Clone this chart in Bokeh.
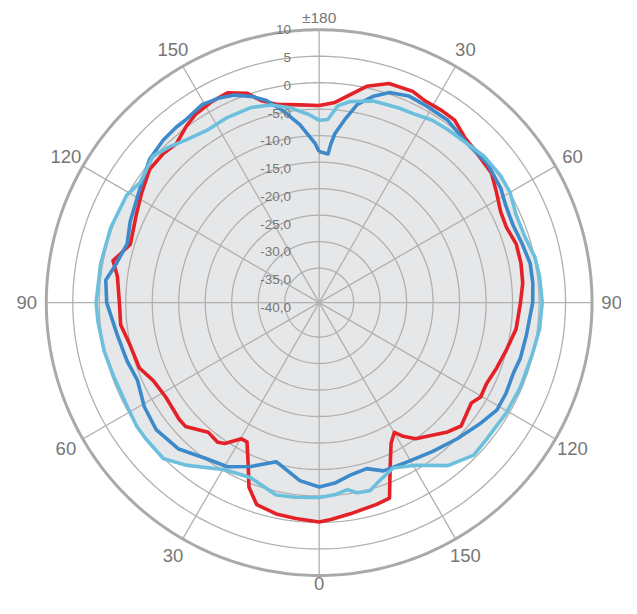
import numpy as np
from bokeh.plotting import figure
from bokeh.models import ColumnDataSource
from bokeh.core.properties import value
from bokeh.embed import file_html
from bokeh.resources import INLINE

# ---------------- data ----------------
R_MIN = -41.5   # radial axis minimum (dB) at the centre
R_MAX = 10.0    # radial axis maximum (dB) at the outer circle

ring_levels = [-35, -30, -25, -20, -15, -10, -5, 0, 5, 10]
radial_label_values = [-40, -35, -30, -25, -20, -15, -10, -5, 0, 5, 10]
radial_labels = ["-40,0", "-35,0", "-30,0", "-25,0", "-20,0", "-15,0",
                 "-10,0", "-5,0", "0", "5", "10"]

angle_ticks = [0, 30, 60, 90, 120, 150, 180, 210, 240, 270, 300, 330]
angle_labels = ["±180", "30", "60", "90", "120", "150",
                "0", "30", "60", "90", "120", "150"]

# angle: degrees clockwise from top ; values in dB
red_angle = [0, 4.5, 12.4, 17.7, 23.9, 27.8, 32.6, 36.6, 41.2, 46.6, 53, 58.2,
             63.4, 68.1, 73.5, 79, 84.5, 90, 97.6, 104.6, 110.2, 115.8, 120.3,
             123.4, 131, 135.2, 144.7, 147.9, 149.9, 152.9, 156.8, 160.2, 164.1,
             171.6, 176.9, 180, 186.2, 191.5, 197.2, 200.8, 203.9, 207.4, 209.7,
             213.8, 216, 220.6, 227.2, 230.2, 238.3, 244.8, 250, 257.5, 263.6,
             270, 277.4, 281.5, 283.8, 287.2, 295.7, 301.8, 308.2, 313.7, 318,
             322.7, 326.7, 332, 336.4, 341, 343.9, 347.8, 354.4]
red_db = [-4.3, -3.6, 0.3, 1.9, 2.1, 1.5, 1.5, 1.4, 0.1, -0.5, -0.8, -2.1,
          -3.2, -3.4, -2.7, -2.7, -2.9, -3.5, -4.0, -5.1, -5.8, -6.4, -6.2,
          -7.1, -6.0, -7.1, -10.0, -11.7, -13.2, -11.7, -7.5, -2.3, -1.9,
          -1.2, -0.5, -0.1, -0.5, -0.8, -1.6, -4.2, -8.4, -11.9, -11.9,
          -9.5, -8.9, -9.3, -7.1, -7.1, -7.5, -6.9, -5.4, -4.9, -3.8,
          -3.8, -3.1, -1.8, -2.9, -4.2, -3.2, -2.1, -0.8, -0.8, -1.2,
          0.1, 1.0, 1.5, 1.7, 0.3, -1.8, -3.2, -4.0]

blue_angle = [0, 3.4, 4.2, 5.3, 7.9, 10.9, 14.8, 18.5, 23.5, 28.2, 35.2, 43,
              50.3, 57.8, 62.5, 68.1, 74, 79.5, 84.8, 90, 98.8, 105.5, 110.1,
              115.8, 121.1, 126.5, 134.6, 142.8, 150.6, 159.1, 164, 169.8, 175,
              180, 186.2, 195.1, 202.6, 209.2, 216.2, 223.8, 232.1, 239.3,
              246.8, 253.1, 261, 270, 276, 280, 287, 293.2, 302.5, 310.2,
              316.2, 320.8, 323.8, 329.4, 333.7, 337.8, 341.7, 345.4, 349.4,
              353.8, 358.6]
blue_db = [-13.0, -13.4, -11.5, -9.5, -6.7, -3.4, -1.2, 0.3, 1.0, 0.8, 0.6, -0.5,
           -0.3, -1.0, -1.8, -2.1, -1.6, -1.0, -1.0, -1.2, -1.9, -2.1, -2.5,
           -2.3, -2.3, -3.4, -4.9, -6.2, -7.1, -7.5, -8.9, -8.4, -7.3,
           -6.7, -7.7, -10.4, -8.0, -6.0, -5.1, -3.2, -2.5, -3.1,
           -4.2, -3.6, -2.9, -1.4, -1.0, -2.3, -3.6, -2.7, -1.4, 0.4,
           1.0, 1.2, 1.2, 1.9, 1.5, 0.8, -0.5, -2.1, -4.7,
           -7.7, -11.5]

light_angle = [0, 2.7, 5.4, 8.8, 15.1, 22.3, 27.2, 31.8, 36.7, 43, 48.4, 55, 60,
               66, 72.5, 78, 83.2, 90, 96.8, 103.6, 112.9, 120.5, 129.1, 134.6,
               141.7, 149.3, 155.9, 161.3, 164.9, 168.7, 171.4, 175.4, 180,
               186.8, 192.6, 201.3, 209.4, 219.4, 225, 231.7, 235.8, 241.5, 250,
               257.2, 265, 270, 280.1, 289.8, 299.2, 303.8, 311.4, 316.1, 320.6,
               327.2, 333.7, 340.7, 346.2, 351.5, 357]
light_db = [-7.1, -6.9, -4.2, -3.1, -2.1, -1.8, -1.6, -1.0, -0.8, -0.5, 0.1, 0.3, 0.1,
            -0.8, -0.7, 0.1, 0.4, 0.6, 0.4, -0.1, -0.3, -0.5, -0.7, -0.5,
            -2.3, -5.8, -7.3, -6.0, -4.7, -4.9, -5.8, -5.1, -4.7,
            -4.5, -4.3, -6.0, -5.3, -1.8, 0.1, 0.1, 0.1, -0.3, -0.3,
            0.1, 0.4, 0.6, 0.4, 0.3, 0.1, -0.8, 0.3, -0.7, -1.8,
            -2.7, -2.5, -2.5, -3.1, -4.3, -6.0]

series = [
    ("red", red_angle, red_db, "#e52128"),
    ("blue", blue_angle, blue_db, "#3d8acb"),
    ("light", light_angle, light_db, "#6cc0dd"),
]

# ---------------- helpers ----------------
def to_xy(angles_deg, dbs):
    a = np.radians(np.asarray(angles_deg, dtype=float))
    r = np.asarray(dbs, dtype=float) - R_MIN
    return r * np.sin(a), r * np.cos(a)

S = 0.9745           # overall scale so that the whole chart fits the page
PX_REF = 5.437       # reference pixels per data unit
PX = PX_REF * S
W, H = 621, 598
cx, cy = 327 * S, 310 * S
p = figure(width=W, height=H, output_backend="svg", toolbar_location=None,
           x_range=(-cx / PX, (W - cx) / PX), y_range=(-(H - cy) / PX, cy / PX),
           min_border=0, outline_line_color=None)
p.axis.visible = False
p.grid.visible = False
p.background_fill_color = "white"
p.border_fill_color = "white"

FILL = "#e6e7e9"
GRID = "#b0b0b0"
TEXT = "#767676"

# fills (union of all series)
for name, ang, db, col in series:
    x, y = to_xy(ang, db)
    p.patch(list(x), list(y), fill_color=FILL, line_color=None)

# rings
t = np.radians(np.linspace(0, 360, 361))
ring_xs, ring_ys = [], []
for lv in ring_levels[:-1]:
    r = lv - R_MIN
    ring_xs.append(list(r * np.sin(t)))
    ring_ys.append(list(r * np.cos(t)))
p.multi_line(ring_xs, ring_ys, line_color=GRID, line_width=1.3)

# spokes
R_OUT = R_MAX - R_MIN
sx, sy = [], []
for a in angle_ticks:
    ar = np.radians(a)
    sx.append([0, R_OUT * np.sin(ar)])
    sy.append([0, R_OUT * np.cos(ar)])
p.multi_line(sx, sy, line_color=GRID, line_width=1.3)

# outer circle
p.line(list(R_OUT * np.sin(t)), list(R_OUT * np.cos(t)), line_color="#a9a9a9", line_width=3)

# series lines
for name, ang, db, col in series:
    x, y = to_xy(list(ang) + [ang[0]], list(db) + [db[0]])
    p.line(list(x), list(y), line_color=col, line_width=3.6, line_join="round")

# radial labels
lab_y = [R_OUT - (R_MAX - v) * 1.0484 for v in radial_label_values]
lab_x = [-29 / PX_REF] * len(radial_labels)
p.text(x=lab_x, y=lab_y, text=radial_labels, text_align="right", text_baseline="alphabetic",
       text_font=value("Liberation Sans"), text_font_size=value("13.5px"), text_color=TEXT)

# angle labels
ax, ay, sizes = [], [], []
for a, lab in zip(angle_ticks, angle_labels):
    rr = 53.9 if a == 0 else (53.0 if a == 180 else 55.2)
    ar = np.radians(a)
    ax.append(rr * np.sin(ar))
    ay.append(rr * np.cos(ar))
    sizes.append("15.5px" if a == 0 else "18.5px")
src = ColumnDataSource(dict(x=ax, y=ay, text=angle_labels, size=sizes))
p.text(x="x", y="y", text="text", source=src, text_align="center", text_baseline="middle",
       text_font=value("Liberation Sans"), text_font_size="size", text_color=TEXT)

open("out.html", "w").write(file_html(p, INLINE))
